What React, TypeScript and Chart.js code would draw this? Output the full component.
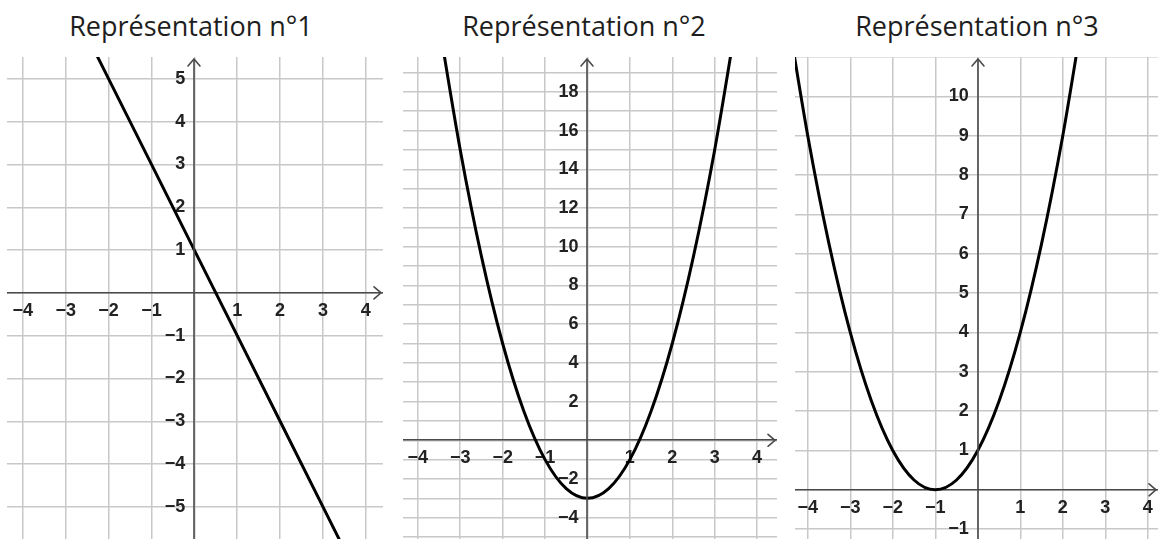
import React, { useEffect, useRef } from "react";
import { Chart, registerables } from "chart.js";

Chart.register(...registerables);

// ---- Data ----
const titles = ["Représentation n°1", "Représentation n°2", "Représentation n°3"];

// Panel 1: straight line
const line1X = [-2.5, -2, -1, 0, 1, 2, 3, 3.5];
const line1Y = [6, 5, 3, 1, -1, -3, -5, -6];

// Panel 2: parabola with vertex (0, -3)
const curve2X = [-3.5, -3, -2.5, -2, -1.5, -1, -0.5, 0, 0.5, 1, 1.5, 2, 2.5, 3, 3.5];
const curve2Y = [21.5, 15, 9.5, 5, 1.5, -1, -2.5, -3, -2.5, -1, 1.5, 5, 9.5, 15, 21.5];

// Panel 3: parabola with vertex (-1, 0)
const curve3X = [-4.5, -4, -3.5, -3, -2.5, -2, -1.5, -1, -0.5, 0, 0.5, 1, 1.5, 2, 2.5];
const curve3Y = [12.25, 9, 6.25, 4, 2.25, 1, 0.25, 0, 0.25, 1, 2.25, 4, 6.25, 9, 12.25];

// Axis ranges
const xRange1 = [-4.37, 4.4];
const yRange1 = [-5.75, 5.51];
const xRange2 = [-4.35, 4.47];
const yRange2 = [-5.1, 19.8];
const xRange3 = [-4.3, 4.24];
const yRange3 = [-1.25, 11.0];

// Tick labels shown
const xLabels = [-4, -3, -2, -1, 1, 2, 3, 4];
const yLabels1 = [-5, -4, -3, -2, -1, 1, 2, 3, 4, 5];
const yLabels2 = [-4, -2, 2, 4, 6, 8, 10, 12, 14, 16, 18];
const yLabels3 = [-1, 1, 2, 3, 4, 5, 6, 7, 8, 9, 10];

type PanelDef = {
  title: string;
  xs: number[];
  ys: number[];
  xRange: number[];
  yRange: number[];
  yLabels: number[];
  smooth: boolean;
  left: number;
  width: number;
  titleCenter: number;
};

const panels: PanelDef[] = [
  { title: titles[0], xs: line1X, ys: line1Y, xRange: xRange1, yRange: yRange1, yLabels: yLabels1, smooth: false, left: 7, width: 376, titleCenter: 191 },
  { title: titles[1], xs: curve2X, ys: curve2Y, xRange: xRange2, yRange: yRange2, yLabels: yLabels2, smooth: true, left: 403, width: 374, titleCenter: 584 },
  { title: titles[2], xs: curve3X, ys: curve3Y, xRange: xRange3, yRange: yRange3, yLabels: yLabels3, smooth: true, left: 795, width: 363, titleCenter: 977 },
];

const TOP = 57;
const HEIGHT = 482;
const Y_LABEL_GAP = 9; // px between y labels and the vertical axis
const AXIS_COLOR = "#4a4a4a";

const fmt = (v: number) => (v < 0 ? "\u2212" + Math.abs(v) : String(v));

const arrowPlugin = {
  id: "axisArrows",
  afterDraw(chart: any) {
    const { ctx, chartArea, scales } = chart;
    const x0 = Math.round(scales.x.getPixelForValue(0));
    const y0 = scales.y.getPixelForValue(0);
    ctx.save();
    ctx.strokeStyle = AXIS_COLOR;
    ctx.lineWidth = 1.6;
    const tipY = chartArea.top + 2;
    // vertical axis
    ctx.beginPath();
    ctx.moveTo(x0, tipY);
    ctx.lineTo(x0, chartArea.bottom);
    ctx.stroke();
    ctx.lineCap = "round";
    ctx.beginPath();
    ctx.moveTo(x0 - 6, tipY + 7);
    ctx.lineTo(x0, tipY);
    ctx.lineTo(x0 + 6, tipY + 7);
    ctx.stroke();
    const tipX = chartArea.right - 2;
    ctx.beginPath();
    ctx.moveTo(tipX - 7, y0 - 6);
    ctx.lineTo(tipX, y0);
    ctx.lineTo(tipX - 7, y0 + 6);
    ctx.stroke();
    ctx.restore();
  },
};

function Panel({ p }: { p: PanelDef }) {
  const ref = useRef<HTMLCanvasElement | null>(null);
  useEffect(() => {
    if (!ref.current) return;
    const data = p.xs.map((x, i) => ({ x, y: p.ys[i] }));
    const tickFont = { family: "'Liberation Sans', Arial, sans-serif", size: 18, weight: "bold" as const };
    const pxPerUnit = p.width / (p.xRange[1] - p.xRange[0]);
    const chart = new Chart(ref.current, {
      type: "scatter",
      data: {
        datasets: [
          {
            data,
            showLine: true,
            pointRadius: 0,
            borderColor: "#000",
            borderWidth: 3,
            tension: 0,
            cubicInterpolationMode: p.smooth ? "monotone" : "default",
          } as any,
        ],
      },
      options: {
        animation: false,
        responsive: false,
        devicePixelRatio: 1,
        layout: { padding: 0 },
        plugins: { legend: { display: false }, tooltip: { enabled: false }, title: { display: false } },
        scales: {
          x: {
            type: "linear",
            position: { y: 0 } as any,
            min: p.xRange[0],
            max: p.xRange[1],
            afterFit: (s: any) => {
              s.height = 0;
              s.paddingLeft = 0;
              s.paddingRight = 0;
              s.paddingTop = 0;
              s.paddingBottom = 0;
            },
            grid: { color: "#c8c8c8", lineWidth: 1.5, drawTicks: false },
            border: { display: true, color: AXIS_COLOR, width: 1.6 },
            ticks: {
              stepSize: 1,
              includeBounds: false,
              autoSkip: false,
              maxRotation: 0,
              padding: 7,
              color: "#222",
              font: tickFont,
              callback: (v: any) => (xLabels.includes(Number(v)) ? fmt(Number(v)) : ""),
            },
          },
          y: {
            type: "linear",
            position: { x: -Y_LABEL_GAP / pxPerUnit } as any,
            min: p.yRange[0],
            max: p.yRange[1],
            afterFit: (s: any) => {
              s.width = 0;
              s.paddingLeft = 0;
              s.paddingRight = 0;
              s.paddingTop = 0;
              s.paddingBottom = 0;
            },
            grid: { color: "#c8c8c8", lineWidth: 1.5, drawTicks: false },
            border: { display: false },
            ticks: {
              stepSize: 1,
              includeBounds: false,
              autoSkip: false,
              padding: 0,
              color: "#222",
              font: tickFont,
              callback: (v: any) => (p.yLabels.includes(Number(v)) ? fmt(Number(v)) : ""),
            },
          },
        },
      },
      plugins: [arrowPlugin],
    });
    return () => chart.destroy();
  }, [p]);
  return (
    <>
      <div
        style={{
          position: "absolute",
          left: p.titleCenter - 170,
          width: 340,
          top: 12,
          textAlign: "center",
          fontFamily: "'Open Sans', sans-serif",
          fontSize: 27,
          lineHeight: "27px",
          color: "#1e1e1e",
          whiteSpace: "nowrap",
        }}
      >
        {p.title}
      </div>
      <canvas
        ref={ref}
        width={p.width}
        height={HEIGHT}
        style={{ position: "absolute", left: p.left, top: TOP, width: p.width, height: HEIGHT }}
      />
    </>
  );
}

export default function App() {
  return (
    <div
      style={{
        position: "absolute",
        left: 0,
        top: 0,
        width: 1158,
        height: 539,
        overflow: "hidden",
        background: "#fff",
      }}
    >
      {panels.map((p, i) => (
        <Panel key={i} p={p} />
      ))}
    </div>
  );
}
